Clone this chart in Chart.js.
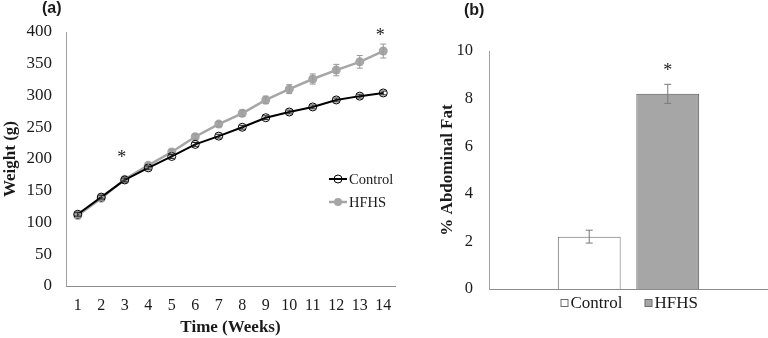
<!DOCTYPE html>
<html>
<head>
<meta charset="utf-8">
<script src="https://cdn.jsdelivr.net/npm/chart.js@4.4.1/dist/chart.umd.min.js"></script>
<style>
  html, body { margin: 0; padding: 0; background: #ffffff; }
  #wrap { position: relative; width: 768px; height: 338px; overflow: hidden; background: #fff; }
  #left { position: absolute; left: 0; top: 0; }
  #right { position: absolute; left: 400px; top: 0; }
</style>
</head>
<body>
<div id="wrap">
  <canvas id="left" width="400" height="338"></canvas>
  <canvas id="right" width="368" height="338"></canvas>
</div>
<script>
// ---------- Data (a): body weight over time ----------
const weeks = ['1','2','3','4','5','6','7','8','9','10','11','12','13','14'];
const controlWeight = [113, 140, 167, 186, 204, 223, 236, 250, 265, 274, 282, 293, 299, 304];
const controlErr    = [3, 3, 3, 3, 3, 3, 3, 3, 3, 3, 3, 3, 3, 3];
const hfhsWeight    = [111, 138, 168, 190, 211, 235, 255, 272, 293, 310, 326, 340, 353, 370];
const hfhsErr       = [3, 3, 3, 4, 4, 4, 4, 5, 6, 7, 8, 9, 10, 11];
const weightTicks   = [0, 50, 100, 150, 200, 250, 300, 350, 400];
const weightStars   = [{ index: 2, value: 208 }, { index: 13, value: 400 }];

// ---------- Data (b): % abdominal fat ----------
const fatGroups = ['Control', 'HFHS'];
const fatValues = [2.2, 8.2];
const fatErr    = [0.27, 0.4];
const fatTicks  = [0, 2, 4, 6, 8, 10];
const fatStars  = [{ dataset: 1, value: 9.3 }];

const SERIF = '"Liberation Serif", "Times New Roman", serif';
const SANS = '"Liberation Sans", Arial, sans-serif';
const TXT = '#1a1a1a';
const GREY = '#a6a6a6';

function drawStar(ctx, x, y) {
  ctx.save();
  ctx.fillStyle = TXT;
  ctx.font = '18px ' + SERIF;
  ctx.textAlign = 'center';
  ctx.textBaseline = 'middle';
  ctx.fillText('*', x, y + 4);
  ctx.restore();
}

// ---------- Chart (a) ----------
const errorPluginA = {
  id: 'errA',
  afterDatasetsDraw(chart) {
    const ctx = chart.ctx;
    const xs = chart.scales.x, ys = chart.scales.y;
    const sets = [
      { vals: hfhsWeight, err: hfhsErr, color: '#9a9a9a' },
      { vals: controlWeight, err: controlErr, color: '#222222' }
    ];
    ctx.save();
    ctx.lineWidth = 1;
    sets.forEach(s => {
      ctx.strokeStyle = s.color;
      s.vals.forEach((v, i) => {
        const x = xs.getPixelForValue(i);
        const y1 = ys.getPixelForValue(v - s.err[i]);
        const y2 = ys.getPixelForValue(v + s.err[i]);
        ctx.beginPath();
        ctx.moveTo(x, y1); ctx.lineTo(x, y2);
        ctx.moveTo(x - 3, y1); ctx.lineTo(x + 3, y1);
        ctx.moveTo(x - 3, y2); ctx.lineTo(x + 3, y2);
        ctx.stroke();
      });
    });
    ctx.restore();
    weightStars.forEach(s => {
      drawStar(ctx, xs.getPixelForValue(s.index) - 3, ys.getPixelForValue(s.value));
    });
  },
  afterDraw(chart) {
    const ctx = chart.ctx;
    const ca = chart.chartArea;
    const items = [
      { label: 'Control', color: '#000000', fill: '#ffffff', lw: 2, y: 179 },
      { label: 'HFHS', color: GREY, fill: GREY, lw: 2.5, y: 202 }
    ];
    ctx.save();
    items.forEach(it => {
      const x0 = ca.right - 66;
      ctx.strokeStyle = it.color;
      ctx.lineWidth = it.lw;
      ctx.beginPath();
      ctx.moveTo(x0, it.y); ctx.lineTo(x0 + 18, it.y);
      ctx.stroke();
      ctx.beginPath();
      ctx.arc(x0 + 9, it.y, 4, 0, Math.PI * 2);
      if (it.label === 'Control') {
        ctx.lineWidth = 1;
        ctx.stroke();
        ctx.beginPath();
        ctx.moveTo(x0 + 5, it.y); ctx.lineTo(x0 + 13, it.y);
        ctx.lineWidth = 1.5;
        ctx.stroke();
      } else {
        ctx.fillStyle = it.fill;
        ctx.fill();
      }
      ctx.fillStyle = TXT;
      ctx.font = '14.5px ' + SERIF;
      ctx.textAlign = 'left';
      ctx.textBaseline = 'middle';
      ctx.fillText(it.label, x0 + 20, it.y + 1);
    });
    ctx.restore();
    // panel label
    ctx.save();
    ctx.fillStyle = TXT;
    ctx.font = 'bold 16px ' + SANS;
    ctx.textAlign = 'left';
    ctx.textBaseline = 'middle';
    ctx.fillText('(a)', 42, 9);
    ctx.restore();
  }
};

new Chart(document.getElementById('left'), {
  type: 'line',
  data: {
    labels: weeks,
    datasets: [
      {
        label: 'Control',
        data: controlWeight,
        borderColor: '#000000',
        borderWidth: 2,
        pointRadius: 4,
        pointBorderWidth: 1,
        pointBorderColor: '#000000',
        pointBackgroundColor: 'rgba(255,255,255,0)',
        tension: 0
      },
      {
        label: 'HFHS',
        data: hfhsWeight,
        borderColor: GREY,
        borderWidth: 2.5,
        pointRadius: 4.5,
        pointBorderWidth: 0,
        pointBackgroundColor: GREY,
        pointBorderColor: GREY,
        tension: 0
      }
    ]
  },
  options: {
    responsive: false,
    animation: false,
    events: [],
    layout: { padding: { top: 32, right: 0, bottom: 0, left: 0 } },
    plugins: { legend: { display: false }, tooltip: { enabled: false } },
    scales: {
      x: {
        offset: true,
        grid: { display: false, drawTicks: false },
        border: { display: true, color: '#8c8c8c', width: 1 },
        ticks: { color: TXT, font: { family: SERIF, size: 16 }, padding: 10, maxRotation: 0, autoSkip: false },
        title: { display: true, text: 'Time (Weeks)', color: TXT, font: { family: SERIF, size: 17, weight: 'bold' }, padding: { top: 0, bottom: 0 } },
        afterFit(s) { s.height = 52; s.paddingRight = 0; s.paddingLeft = 0; }
      },
      y: {
        min: 0, max: 400,
        afterBuildTicks(s) { s.ticks = weightTicks.map(v => ({ value: v })); },
        grid: { display: false, drawTicks: false },
        border: { display: true, color: '#a0a0a0', width: 1 },
        ticks: { color: TXT, font: { family: SERIF, size: 17 }, padding: 14 },
        title: { display: true, text: 'Weight (g)', color: TXT, font: { family: SERIF, size: 17, weight: 'bold' }, padding: { top: 0, bottom: 0 } },
        afterFit(s) { s.width = 66; }
      }
    }
  },
  plugins: [errorPluginA]
});

// ---------- Chart (b) ----------
const errorPluginB = {
  id: 'errB',
  afterDatasetsDraw(chart) {
    const ctx = chart.ctx;
    const ys = chart.scales.y;
    ctx.save();
    ctx.strokeStyle = '#7a7a7a';
    ctx.lineWidth = 1;
    chart.data.datasets.forEach((ds, di) => {
      const bar = chart.getDatasetMeta(di).data[0];
      const x = bar.x;
      const v = ds.data[0];
      const e = fatErr[di];
      const y1 = ys.getPixelForValue(v - e), y2 = ys.getPixelForValue(v + e);
      ctx.beginPath();
      ctx.moveTo(x, y1); ctx.lineTo(x, y2);
      ctx.moveTo(x - 3.5, y1); ctx.lineTo(x + 3.5, y1);
      ctx.moveTo(x - 3.5, y2); ctx.lineTo(x + 3.5, y2);
      ctx.stroke();
    });
    ctx.restore();
    fatStars.forEach(s => {
      const bar = chart.getDatasetMeta(s.dataset).data[0];
      drawStar(ctx, bar.x, ys.getPixelForValue(s.value));
    });
  },
  afterDraw(chart) {
    const ctx = chart.ctx;
    const ca = chart.chartArea;
    const cx = (ca.left + ca.right) / 2;
    const y = ca.bottom + 14;
    ctx.save();
    ctx.font = '17px ' + SERIF;
    ctx.textBaseline = 'middle';
    ctx.textAlign = 'left';
    const entries = [
      { label: fatGroups[0], fill: '#ffffff', x: cx - 68 },
      { label: fatGroups[1], fill: GREY, x: cx + 16 }
    ];
    entries.forEach(en => {
      ctx.fillStyle = en.fill;
      ctx.fillRect(en.x + 0.5, y - 3.5, 7, 7);
      ctx.strokeStyle = '#6a6a6a';
      ctx.lineWidth = 1;
      ctx.strokeRect(en.x + 0.5, y - 3.5, 7, 7);
      ctx.fillStyle = TXT;
      ctx.fillText(en.label, en.x + 10, y + 1);
    });
    ctx.fillStyle = TXT;
    ctx.font = 'bold 16px ' + SANS;
    ctx.fillText('(b)', 64, 11);
    ctx.restore();
  }
};

new Chart(document.getElementById('right'), {
  type: 'bar',
  data: {
    labels: [''],
    datasets: [
      { label: fatGroups[0], data: [fatValues[0]], backgroundColor: '#ffffff', borderColor: '#6a6a6a', borderWidth: 1, categoryPercentage: 0.563, barPercentage: 0.80 },
      { label: fatGroups[1], data: [fatValues[1]], backgroundColor: GREY, borderColor: '#555555', borderWidth: 1, categoryPercentage: 0.563, barPercentage: 0.80 }
    ]
  },
  options: {
    responsive: false,
    animation: false,
    events: [],
    layout: { padding: { top: 51, right: 0, bottom: 0, left: 0 } },
    plugins: { legend: { display: false }, tooltip: { enabled: false } },
    scales: {
      x: {
        grid: { display: false, drawTicks: false },
        border: { display: true, color: '#8c8c8c', width: 1 },
        ticks: { display: false },
        afterFit(s) { s.height = 49; }
      },
      y: {
        min: 0, max: 10,
        afterBuildTicks(s) { s.ticks = fatTicks.map(v => ({ value: v })); },
        grid: { display: false, drawTicks: false },
        border: { display: true, color: '#a0a0a0', width: 1 },
        ticks: { color: TXT, font: { family: SERIF, size: 16.5 }, padding: 16 },
        title: { display: true, text: '% Abdominal Fat', color: TXT, font: { family: SERIF, size: 17, weight: 'bold' }, padding: { top: 37, bottom: 0 } },
        afterFit(s) { s.width = 89; }
      }
    }
  },
  plugins: [errorPluginB]
});
</script>
</body>
</html>
